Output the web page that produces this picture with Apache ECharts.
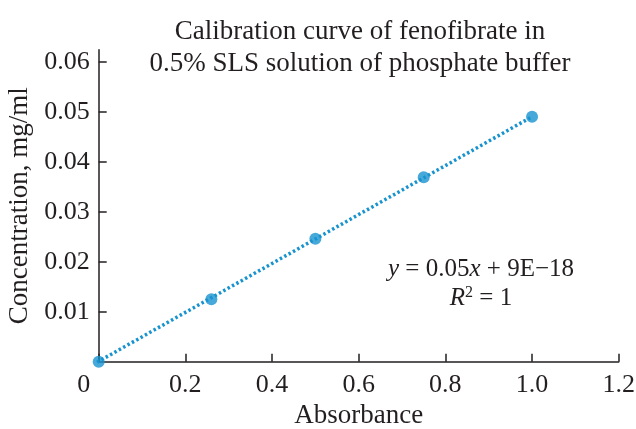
<!DOCTYPE html>
<html><head><meta charset="utf-8">
<script src="https://cdn.jsdelivr.net/npm/echarts@6/dist/echarts.min.js"></script>
<style>html,body{margin:0;padding:0;background:#fff}#c{width:636px;height:429px}</style>
</head><body><div id="c"></div>
<script>
const absorbance = [0, 0.26, 0.50, 0.75, 1.0];
const concentration = [0, 0.0125, 0.0246, 0.0369, 0.049];
const trendX = [-0.024, 1.0];
const trendY = [-0.0011, 0.049];
const xTicks = [0, 0.2, 0.4, 0.6, 0.8, 1.0, 1.2];
const yTicks = [0.01, 0.02, 0.03, 0.04, 0.05, 0.06];
const titleLines = ['Calibration curve of fenofibrate in', '0.5% SLS solution of phosphate buffer'];
const xName = 'Absorbance';
const yName = 'Concentration, mg/ml';

const FONT = 'Liberation Serif';
const TXT = '#231f20';
const BLUE = '#1893d0';
const chart = echarts.init(document.getElementById('c'), null, {renderer: 'canvas'});
chart.setOption({
  animation: false,
  backgroundColor: '#fff',
  title: [{
    text: titleLines.join('\n'),
    left: 360, top: 16, textAlign: 'center', padding: 0,
    textStyle: {fontFamily: FONT, fontSize: 27, fontWeight: 'normal', color: TXT, lineHeight: 32}
  }, {
    text: '{i|y} = 0.05{i|x} + 9E\u221218\n{i|R}{s|2} = 1',
    left: 481, top: 255, textAlign: 'center', padding: 0,
    textStyle: {fontFamily: FONT, fontSize: 25, fontWeight: 'normal', color: TXT, lineHeight: 29,
      rich: {
        i: {fontFamily: FONT, fontSize: 25, fontStyle: 'italic', color: TXT},
        s: {fontFamily: FONT, fontSize: 16, color: TXT, padding: [0, 0, 12, 0]}
      }}
  }],
  grid: {left: 98.7, right: 17.3, top: 49.7, bottom: 67.3, containLabel: false, outerBoundsMode: 'none'},
  xAxis: {
    type: 'value', min: 0, max: 1.2,
    name: xName, nameLocation: 'middle', nameGap: 40,
    nameTextStyle: {fontFamily: FONT, fontSize: 27, color: TXT},
    axisLine: {lineStyle: {color: TXT, width: 1.5}},
    axisTick: {inside: true, length: 8, lineStyle: {color: TXT, width: 1.5}, customValues: xTicks},
    axisLabel: {
      customValues: xTicks, margin: 10,
      fontFamily: FONT, fontSize: 26, color: TXT,
      formatter: v => v === 0 ? '{z|0}' : v.toFixed(1),
      rich: {z: {fontFamily: FONT, fontSize: 26, color: TXT, padding: [0, 30, 0, 0]}}
    },
    splitLine: {show: false}
  },
  yAxis: {
    type: 'value', min: 0, max: 0.0624,
    name: yName, nameLocation: 'middle', nameGap: 63, nameRotate: 90,
    nameTextStyle: {fontFamily: FONT, fontSize: 27, color: TXT},
    axisLine: {lineStyle: {color: TXT, width: 1.5}},
    axisTick: {inside: true, length: 8, lineStyle: {color: TXT, width: 1.5}, customValues: yTicks},
    axisLabel: {
      customValues: yTicks, margin: 9,
      fontFamily: FONT, fontSize: 26, color: TXT,
      formatter: v => v.toFixed(2)
    },
    splitLine: {show: false}
  },
  series: [{
    type: 'line', clip: false, symbol: 'none', z: 2,
    data: trendX.map((x, i) => [x, trendY[i]]),
    lineStyle: {color: BLUE, width: 3.5, type: [2.5, 2.5]}
  }, {
    type: 'scatter', clip: false, z: 3,
    data: absorbance.map((x, i) => [x, concentration[i]]),
    symbol: 'circle', symbolSize: 12,
    itemStyle: {color: BLUE}
  }]
});
</script></body></html>
